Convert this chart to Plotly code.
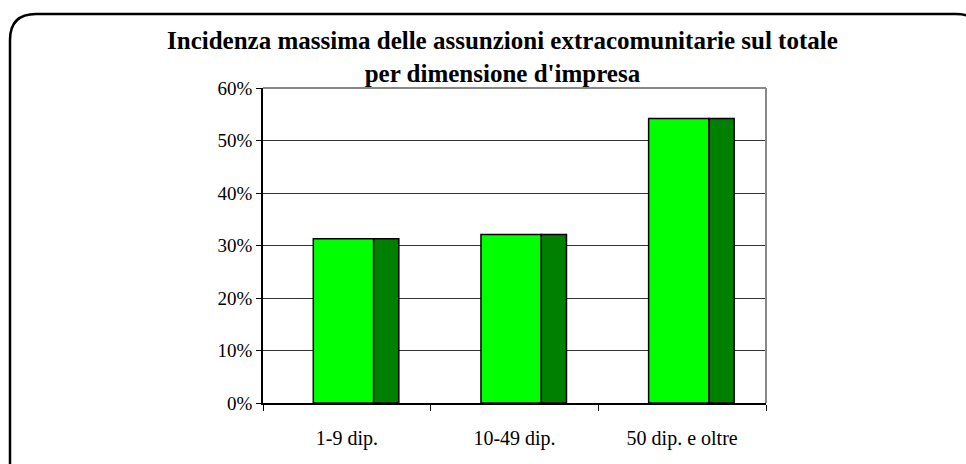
import plotly.graph_objects as go

categories = ["1-9 dip.", "10-49 dip.", "50 dip. e oltre"]
values = [31.3, 32.1, 54.2]
tick_vals = [0, 10, 20, 30, 40, 50, 60]
tick_text = ["0%", "10%", "20%", "30%", "40%", "50%", "60%"]
title_lines = ["Incidenza massima delle assunzioni extracomunitarie sul totale",
               "per dimensione d'impresa"]

W, H = 966, 464
L, R, T, B = 263, 200, 88, 61
pw, ph = W - L - R, H - T - B

def px(x):
    return (x - L) / pw

def py(y):
    return (H - B - y) / ph

FONT = "Liberation Serif, Times New Roman, DejaVu Serif, serif"
front_w = 0.36
side_w = 0.15

fig = go.Figure()
fig.add_trace(go.Bar(
    x=categories, y=values, width=front_w, offset=-front_w / 2 - 0.02,
    marker=dict(color="#00FF00", line=dict(color="black", width=1.5)),
    hoverinfo="x+y", showlegend=False))
fig.add_trace(go.Bar(
    x=categories, y=values, width=side_w, offset=front_w / 2 - 0.02,
    marker=dict(color="#008000", line=dict(color="black", width=1.5)),
    hoverinfo="skip", showlegend=False))

# rounded frame
r = 26
x0, y0, x1, y1 = 10, 14, 982, 490
path = (f"M {px(x0)},{py(y1)} L {px(x0)},{py(y0 + r)} "
        f"Q {px(x0)},{py(y0)} {px(x0 + r)},{py(y0)} "
        f"L {px(x1 - r)},{py(y0)} Q {px(x1)},{py(y0)} {px(x1)},{py(y0 + r)} "
        f"L {px(x1)},{py(y1)}")
fig.add_shape(type="path", path=path, xref="paper", yref="paper",
              line=dict(color="black", width=2.5), layer="above")

fig.add_annotation(text="<br>".join("<b>" + t + "</b>" for t in title_lines),
                   xref="paper", yref="paper",
                   x=px(502), y=py(25), xanchor="center", yanchor="top",
                   showarrow=False,
                   font=dict(family=FONT, size=25, color="black"))

fig.update_layout(
    width=W, height=H,
    margin=dict(l=L, r=R, t=T, b=B),
    paper_bgcolor="white", plot_bgcolor="white",
    barmode="overlay",
    font=dict(family=FONT, size=19, color="black"),
    xaxis=dict(type="category", range=[-0.5, 2.5], showline=True,
               linecolor="black", linewidth=1.5, ticks="outside",
               tickson="boundaries", ticklen=6, tickcolor="black",
               ticklabelstandoff=16, showgrid=False, mirror=False,
               tickfont=dict(size=20)),
    yaxis=dict(range=[0, 60], tickvals=tick_vals, ticktext=tick_text,
               showline=True, linecolor="black", linewidth=1.5,
               ticks="outside", ticklen=5, tickcolor="black",
               showgrid=True, gridcolor="#333333", gridwidth=1,
               zeroline=False),
)
fig.add_shape(type="line", xref="paper", yref="paper", x0=1, x1=1, y0=0, y1=1,
              line=dict(color="#888888", width=2))
fig.add_shape(type="line", xref="paper", yref="paper", x0=0, x1=1, y0=1, y1=1,
              line=dict(color="#888888", width=2))

fig.write_html("out.html", config={"displayModeBar": False},
               post_script="document.body.style.margin='0';document.body.style.overflow='hidden';")
